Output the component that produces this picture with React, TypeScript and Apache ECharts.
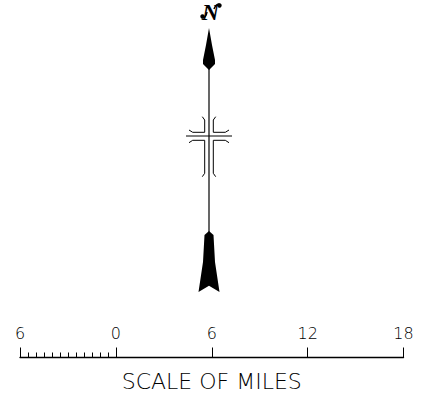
import React, { useEffect, useRef } from "react";
import * as echarts from "echarts";

const majorTicks = [-6, 0, 6, 12, 18];
const minorTicks = [-5.5, -5, -4.5, -4, -3.5, -3, -2.5, -2, -1.5, -1, -0.5];
const tickLabels: Record<string, string> = { "-6": "6", "0": "0", "6": "6", "12": "12", "18": "18" };
const scaleTitle = "SCALE OF MILES";
const northLabel = "N";

const CX = 209;
const mirror = (pts: number[][]) => pts.map(([x, y]) => [2 * CX - x, y]);
const crossUpper = [[202.3, 116.7], [204.7, 120], [204.7, 132.3], [192.7, 132.3], [189, 130]];
const crossLower = [[189, 142.7], [192.7, 140.3], [204.7, 140.3], [204.7, 173.3], [202.3, 176.7]];
const blackLine = { stroke: "#000", lineWidth: 1, fill: "none" };

export default function App() {
  const ref = useRef<HTMLDivElement>(null);
  useEffect(() => {
    const chart = echarts.init(ref.current!, undefined, { renderer: "svg" });
    chart.setOption({
      animation: false,
      backgroundColor: "#fff",
      grid: { left: 20, width: 383.5, top: 300, height: 57.5 },
      xAxis: {
        type: "value",
        min: majorTicks[0],
        max: majorTicks[majorTicks.length - 1],
        interval: 6,
        splitLine: { show: false },
        axisLine: { show: true, onZero: false, lineStyle: { color: "#000", width: 1.4 } },
        axisTick: { show: true, inside: true, length: 10, lineStyle: { color: "#000", width: 1 } },
        axisLabel: {
          inside: true,
          margin: 16,
          color: "#000",
          fontFamily: "DejaVu Sans",
          fontWeight: 200,
          fontSize: 16,
          showMinLabel: true,
          showMaxLabel: true,
          hideOverlap: false,
          formatter: (v: number) => tickLabels[String(v)] ?? "",
        },
        name: scaleTitle,
        nameLocation: "middle",
        nameGap: 13,
        nameTextStyle: { color: "#000", fontFamily: "DejaVu Sans", fontWeight: 200, fontSize: 22 },
      },
      yAxis: { type: "value", show: false, min: 0, max: 1 },
      series: [
        {
          type: "custom",
          silent: true,
          clip: false,
          data: minorTicks.map((v) => [v, 0]),
          renderItem: (_p: any, api: any) => {
            const [x, y] = api.coord([api.value(0), api.value(1)]);
            return {
              type: "line",
              shape: { x1: Math.round(x) + 0.5, y1: y, x2: Math.round(x) + 0.5, y2: y - 5 },
              style: { stroke: "#000", lineWidth: 1 },
            };
          },
        },
      ],
      graphic: [
        {
          type: "text",
          x: 210.5,
          y: 11.5,
          style: {
            text: northLabel,
            fill: "#000",
            font: "italic bold 24px 'Liberation Serif'",
            align: "center",
            verticalAlign: "middle",
          },
        },
        { type: "circle", shape: { cx: 202.5, cy: 16.5, r: 2.2 }, style: { fill: "#000" } },
        { type: "circle", shape: { cx: 219.5, cy: 5.5, r: 2.2 }, style: { fill: "#000" } },
        { type: "bezierCurve", shape: { x1: 202.5, y1: 18, cpx1: 206, cpy1: 18, x2: 207, y2: 12 }, style: { stroke: "#000", lineWidth: 1.5, fill: "none" } },
        { type: "bezierCurve", shape: { x1: 219.5, y1: 4, cpx1: 216, cpy1: 4, x2: 214, y2: 9 }, style: { stroke: "#000", lineWidth: 1.5, fill: "none" } },
        { type: "line", shape: { x1: CX, y1: 60, x2: CX, y2: 240 }, style: { stroke: "#000", lineWidth: 1.2 } },
        {
          type: "polygon",
          shape: { points: [[CX, 28], [212, 45], [215, 60], [215, 64], [CX, 70], [203, 64], [203, 60], [206, 45]] },
          style: { fill: "#000" },
        },
        {
          type: "polygon",
          shape: { points: [[CX, 231], [213.5, 235], [215, 262], [219.5, 292], [CX, 285.7], [198.5, 292], [203, 262], [204.5, 235]] },
          style: { fill: "#000" },
        },
        { type: "line", shape: { x1: 186, y1: 136, x2: 232, y2: 136 }, style: { stroke: "#000", lineWidth: 1 } },
        { type: "polyline", shape: { points: crossUpper }, style: blackLine },
        { type: "polyline", shape: { points: crossLower }, style: blackLine },
        { type: "polyline", shape: { points: mirror(crossUpper) }, style: blackLine },
        { type: "polyline", shape: { points: mirror(crossLower) }, style: blackLine },
      ],
    });
    return () => chart.dispose();
  }, []);
  return <div ref={ref} style={{ position: "fixed", left: 0, top: 0, width: 426, height: 402 }} />;
}
